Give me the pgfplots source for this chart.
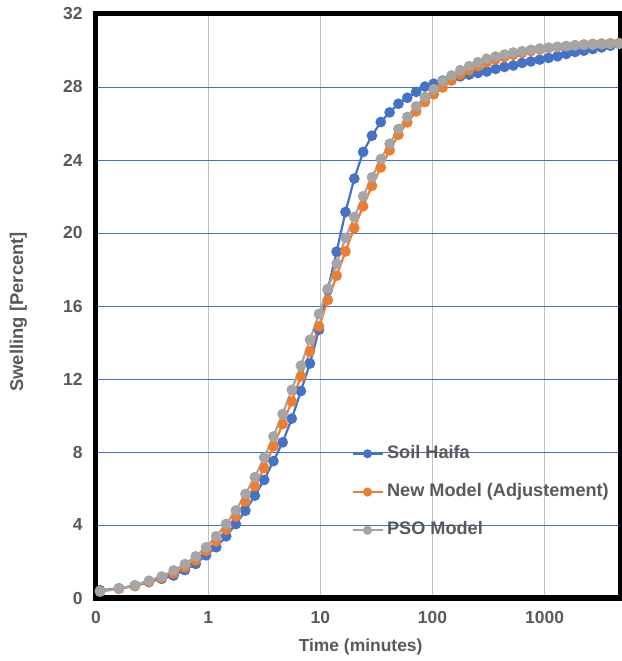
\documentclass[border=0pt]{standalone}
\usepackage{fontspec}
\setmainfont{Liberation Sans}
\usepackage{pgfplots}
\pgfplotsset{compat=1.18}
\definecolor{cblue}{HTML}{4472C4}
\definecolor{corange}{HTML}{ED7D31}
\definecolor{cgray}{HTML}{A5A5A5}
\definecolor{ctext}{HTML}{595959}
\definecolor{cgrid}{HTML}{BFBFBF}
\begin{document}
\begin{tikzpicture}
\begin{axis}[
  name=ax, at={(0,0)}, anchor=south west,
  scale only axis, width=524bp, height=584bp,
  xmode=log, xmin=0.1, xmax=4700,
  ymin=0, ymax=32,
  xtick={0.1,1,10,100,1000}, xticklabels={0,1,10,100,1000},
  ytick={0,4,8,12,16,20,24,28,32}, yticklabels={0,4,8,12,16,20,24,28,32},
  xminorticks=false, yminorticks=false,
  major tick length=0pt, tick style={draw=none},
  xmajorgrids, ymajorgrids,
  x grid style={cgrid, line width=1.3bp},
  y grid style={cblue, line width=0.9bp},
  axis line style={line width=5bp, black},
  ticklabel style={font=\fontsize{17.5}{20}\selectfont\bfseries, text=ctext},
  xticklabel style={yshift=-10bp},
  yticklabel style={xshift=-10bp},
  xlabel={Time (minutes)}, ylabel={Swelling [Percent]},
  xlabel style={font=\fontsize{17.5}{21}\selectfont\bfseries, text=ctext, at={(axis description cs:0.505,0)}, anchor=base, yshift=-53bp},
  ylabel style={font=\fontsize{18.5}{21}\selectfont\bfseries, text=ctext, at={(axis description cs:-0.139,0.49)}, anchor=base},
  legend cell align=left,
  legend style={draw=none, fill=none, inner sep=0pt, outer sep=0pt,
    row sep=21.3bp, column sep=3.5bp,
    at={(rel axis cs:0.4875,0.2615)}, anchor=north west,
    nodes={inner sep=0pt, text height=13bp, text depth=4bp},
    font=\fontsize{18.2}{21}\selectfont\bfseries, text=ctext},
  legend image code/.code={\draw[#1, mark size=3.4bp, mark repeat=2, mark phase=2] plot coordinates {(0bp,0bp) (15bp,0bp) (30bp,0bp)};},
]
\addplot[cblue, line width=2.2bp, mark=*, mark size=4.2bp, mark options={solid, fill=cblue, draw=cblue}] coordinates {
(0.1087,0.42) (0.1602,0.53) (0.2221,0.66) (0.2963,0.87) (0.3854,1.05) (0.4922,1.23) (0.6205,1.53) (0.7744,1.87) (0.9591,2.34) (1.181,2.78) (1.447,3.38) (1.766,4.05) (2.149,4.78) (2.608,5.61) (3.160,6.47) (3.821,7.50) (4.616,8.53) (5.568,9.83) (6.712,11.34) (8.084,12.85) (9.73,14.70) (11.66,16.89) (13.98,18.98) (16.77,21.15) (20.10,22.98) (24.09,24.44) (28.88,25.33) (34.62,26.08) (41.50,26.61) (49.75,27.08) (59.64,27.41) (71.49,27.73) (85.70,28.02) (102.7,28.18) (123.2,28.35) (147.6,28.48) (176.9,28.58) (212.1,28.68) (254.2,28.77) (304.8,28.85) (365.4,28.99) (437.9,29.10) (525.0,29.18) (629.3,29.32) (754.5,29.40) (904.4,29.50) (1084,29.59) (1300,29.68) (1558,29.81) (1867,29.92) (2239,29.99) (2684,30.08) (3217,30.17) (3857,30.26) (4623,30.36)
};
\addlegendentry{Soil Haifa}
\addplot[corange, line width=2.2bp, mark=*, mark size=4.2bp, mark options={solid, fill=corange, draw=corange}] coordinates {
(0.1087,0.37) (0.1602,0.50) (0.2221,0.66) (0.2963,0.88) (0.3854,1.10) (0.4922,1.35) (0.6205,1.68) (0.7744,2.06) (0.9591,2.58) (1.181,3.10) (1.447,3.74) (1.766,4.47) (2.149,5.29) (2.608,6.14) (3.160,7.12) (3.821,8.31) (4.616,9.53) (5.568,10.77) (6.712,12.14) (8.084,13.51) (9.73,14.88) (11.66,16.32) (13.98,17.66) (16.77,18.99) (20.10,20.27) (24.09,21.46) (28.88,22.59) (34.62,23.59) (41.50,24.53) (49.75,25.38) (59.64,26.06) (71.49,26.66) (85.70,27.18) (102.7,27.60) (123.2,27.97) (147.6,28.35) (176.9,28.68) (212.1,28.92) (254.2,29.14) (304.8,29.36) (365.4,29.51) (437.9,29.64) (525.0,29.76) (629.3,29.87) (754.5,29.97) (904.4,30.06) (1084,30.13) (1300,30.19) (1558,30.24) (1867,30.29) (2239,30.33) (2684,30.36) (3217,30.38) (3857,30.40) (4623,30.41)
};
\addlegendentry{New Model (Adjustement)}
\addplot[cgray, line width=2.2bp, mark=*, mark size=4.2bp, mark options={solid, fill=cgray, draw=cgray}] coordinates {
(0.1087,0.35) (0.1602,0.53) (0.2221,0.70) (0.2963,0.95) (0.3854,1.18) (0.4922,1.51) (0.6205,1.86) (0.7744,2.28) (0.9591,2.78) (1.181,3.38) (1.447,4.06) (1.766,4.80) (2.149,5.70) (2.608,6.62) (3.160,7.70) (3.821,8.85) (4.616,10.08) (5.568,11.41) (6.712,12.73) (8.084,14.15) (9.73,15.56) (11.66,16.94) (13.98,18.32) (16.77,19.73) (20.10,20.88) (24.09,22.01) (28.88,23.05) (34.62,24.05) (41.50,24.89) (49.75,25.70) (59.64,26.36) (71.49,26.94) (85.70,27.45) (102.7,27.88) (123.2,28.31) (147.6,28.63) (176.9,28.92) (212.1,29.14) (254.2,29.36) (304.8,29.55) (365.4,29.67) (437.9,29.78) (525.0,29.89) (629.3,29.96) (754.5,30.04) (904.4,30.11) (1084,30.16) (1300,30.20) (1558,30.23) (1867,30.27) (2239,30.30) (2684,30.32) (3217,30.34) (3857,30.36) (4623,30.37)
};
\addlegendentry{PSO Model}
\end{axis}
\pgfresetboundingbox
\path (-96bp,-63bp) rectangle (526bp,598bp);
\end{tikzpicture}
\end{document}
